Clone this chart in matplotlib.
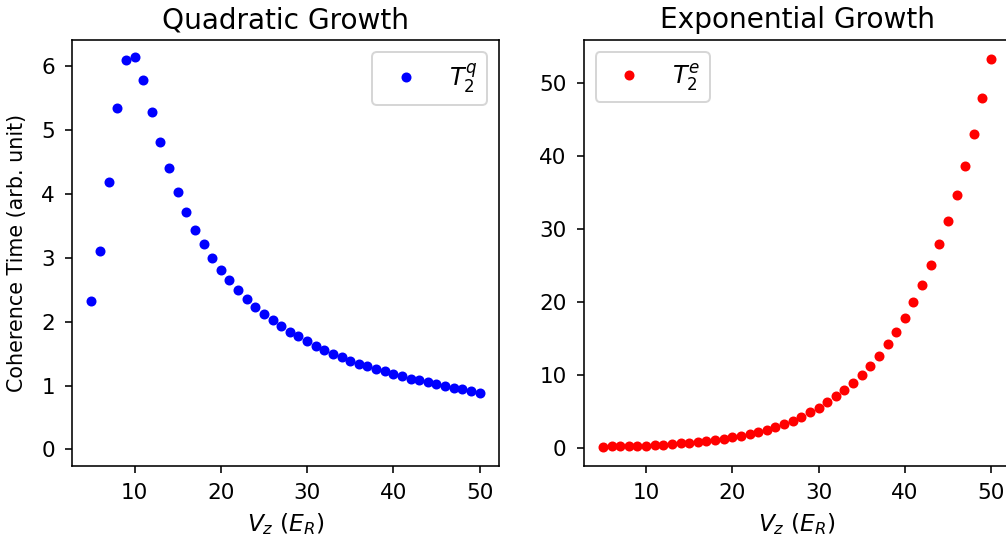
import numpy as np
import matplotlib
matplotlib.use("Agg")
import matplotlib.pyplot as plt

# trap depth V_z in units of recoil energy
v_z = np.arange(5, 51)

# coherence time for the quadratic-growth case
t2_quad = [2.32, 3.10, 4.19, 5.35, 6.09, 6.15, 5.78, 5.29, 4.81, 4.40,
           4.03, 3.72, 3.44, 3.21, 3.00, 2.81, 2.65, 2.50, 2.36, 2.23,
           2.12, 2.03, 1.93, 1.84, 1.77, 1.69, 1.62, 1.56, 1.50, 1.44,
           1.39, 1.34, 1.30, 1.26, 1.22, 1.18, 1.15, 1.11, 1.08, 1.05,
           1.02, 0.99, 0.96, 0.94, 0.91, 0.89]

# coherence time for the exponential-growth case
t2_exp = [0.22, 0.24, 0.26, 0.29, 0.33, 0.37, 0.43, 0.49, 0.56, 0.65,
          0.75, 0.86, 0.98, 1.13, 1.30, 1.48, 1.69, 1.92, 2.19, 2.51,
          2.87, 3.33, 3.79, 4.28, 4.89, 5.55, 6.30, 7.08, 7.90, 8.90,
          10.0, 11.26, 12.65, 14.2, 15.9, 17.85, 20.0, 22.35, 25.0, 27.9,
          31.1, 34.7, 38.6, 43.0, 47.9, 53.2]

plt.rcParams["xtick.major.pad"] = 5
plt.rcParams["ytick.major.pad"] = 5
plt.rcParams["xtick.labelsize"] = 10.75
plt.rcParams["ytick.labelsize"] = 10.75

W, H, DPI = 1006, 544, 144
fig = plt.figure(figsize=(W / DPI, H / DPI), dpi=DPI)

# axes boxes in pixels: left, top, width, height
top, bottom, width = 40, 466, 427
ax1 = fig.add_axes([72 / W, (H - bottom) / H, width / W, (bottom - top) / H])
ax2 = fig.add_axes([583.5 / W, (H - bottom) / H, width / W, (bottom - top) / H])

ax1.plot(v_z, t2_quad, "o", color="blue", markersize=4, label=r"$T_2^q$")
ax1.set_title("Quadratic Growth", fontsize=14)
ax1.set_xlabel(r"$V_z\ (E_R)$", fontsize=11.7, labelpad=4)
ax1.set_ylabel("Coherence Time (arb. unit)", fontsize=10.3, labelpad=7)
ax1.set_ylim(-0.26, 6.41)
ax1.set_yticks(range(0, 7))
ax1.legend(loc="upper right", fontsize=12)

ax2.plot(v_z, t2_exp, "o", color="red", markersize=4, label=r"$T_2^e$")
ax2.set_title("Exponential Growth", fontsize=14)
ax2.set_xlabel(r"$V_z\ (E_R)$", fontsize=11.7, labelpad=4)
ax2.set_ylim(-2.43, 55.85)
ax2.legend(loc="upper left", fontsize=12)

for ax in (ax1, ax2):
    ax.set_xlim(2.75, 52.25)
    ax.set_xticks([10, 20, 30, 40, 50])

fig.savefig("out.png", dpi=DPI)
